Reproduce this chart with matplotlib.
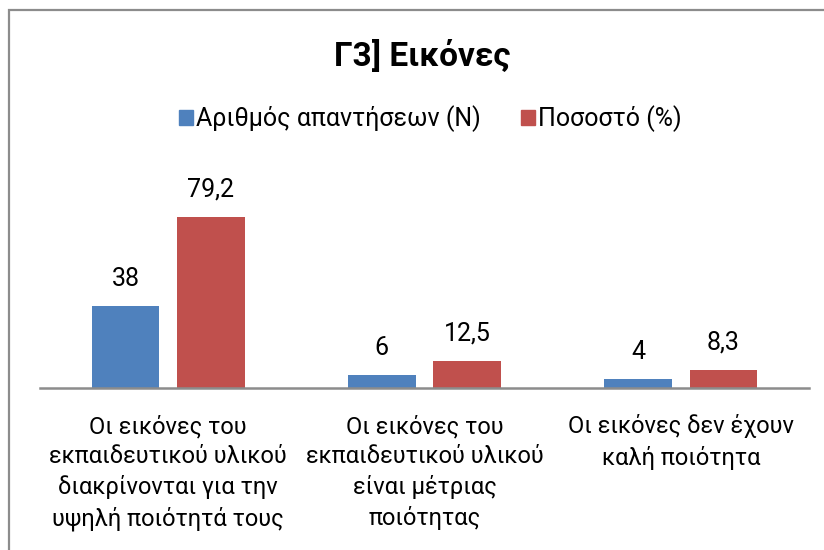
import matplotlib.pyplot as plt
from matplotlib.patches import Rectangle, Patch
import numpy as np

categories = [
    "Οι εικόνες του\nεκπαιδευτικού υλικού\nδιακρίνονται για την\nυψηλή ποιότητά τους",
    "Οι εικόνες του\nεκπαιδευτικού υλικού\nείναι μέτριας\nποιότητας",
    "Οι εικόνες δεν έχουν\nκαλή ποιότητα",
]
count_n = [38, 6, 4]
percent = [79.2, 12.5, 8.3]
series_names = ["Αριθμός απαντήσεων (Ν)", "Ποσοστό (%)"]
title = "Γ3] Εικόνες"

plt.rcParams["font.family"] = ["Roboto", "Noto Sans", "DejaVu Sans"]

W, H = 824, 550
fig = plt.figure(figsize=(W / 100, H / 100), dpi=100)

# plot area in pixel coordinates
left, right, top, bottom = 40, 809, 172, 388
ax = fig.add_axes([left / W, 1 - bottom / H, (right - left) / W, (bottom - top) / H])

x = np.arange(len(categories))
width = 0.265
blue = "#4F81BD"
red = "#C0504D"
b1 = ax.bar(x - 0.1665, count_n, width, color=blue, label=series_names[0])
b2 = ax.bar(x + 0.1665, percent, width, color=red, label=series_names[1])

ax.bar_label(b1, labels=[str(v) for v in count_n], padding=11, fontsize=18)
ax.bar_label(b2, labels=[f"{v:.1f}".replace(".", ",") for v in percent], padding=11, fontsize=18)

ax.set_xlim(-0.5, len(categories) - 0.5)
ax.set_ylim(0, 100)
ax.set_yticks([])
ax.set_xticks(x)
ax.set_xticklabels(categories, fontsize=17, linespacing=1.38, va="top")
ax.tick_params(axis="x", length=0, pad=19)
for s in ["top", "right", "left"]:
    ax.spines[s].set_visible(False)
ax.spines["bottom"].set_color("#8C8C8C")
ax.spines["bottom"].set_linewidth(1.8)

fig.text(422 / W, 1 - 56 / H, title, ha="center", va="center",
         fontsize=24, fontweight="bold")

handles = [Patch(color=blue), Patch(color=red)]
fig.legend(handles, series_names, loc="center", bbox_to_anchor=(430 / W, 1 - 119 / H),
           ncol=2, frameon=False, fontsize=18, handlelength=0.56, handleheight=0.56,
           handletextpad=0.12, columnspacing=1.6)

# chart frame, only left and top edges fall inside the image
fig.patches.append(Rectangle((8.5 / W, -0.2), 1.5, 1.2 - 9.5 / H, transform=fig.transFigure,
                             fill=False, edgecolor="#8C8C8C", linewidth=1.6))

fig.savefig("out.png", dpi=100)
